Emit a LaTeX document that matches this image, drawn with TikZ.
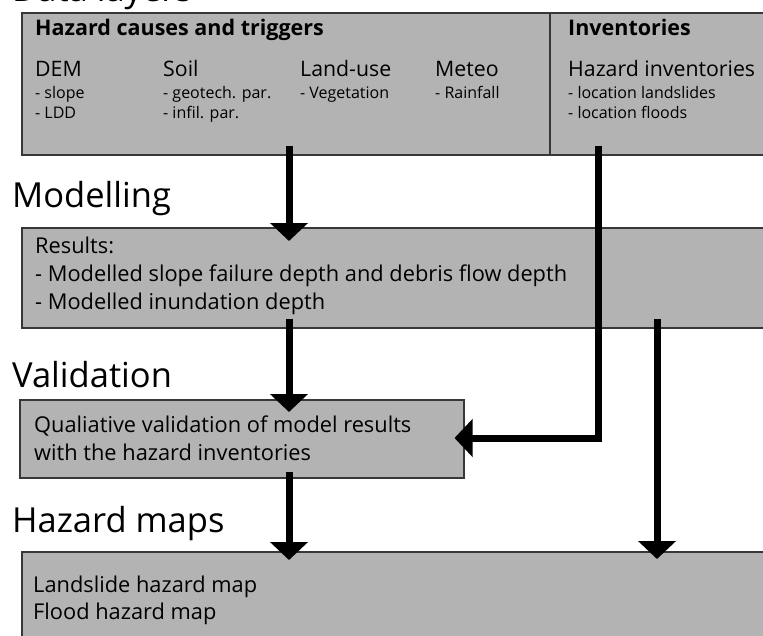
\documentclass[tikz,border=0pt]{standalone}
\usepackage{fontspec}
\setmainfont{Open Sans}
\usetikzlibrary{arrows.meta,calc}
\definecolor{boxfill}{RGB}{179,179,179}
\definecolor{boxline}{RGB}{55,55,55}
\tikzset{
  box/.style={draw=boxline, line width=1.5pt, fill=boxfill, anchor=north west, inner sep=0pt},
  heading/.style={anchor=base west, inner sep=0pt, font=\fontsize{34.5}{40}\selectfont},
  bold/.style={anchor=base west, inner sep=0pt, font=\fontsize{21.5}{24}\selectfont\bfseries},
  title/.style={anchor=base west, inner sep=0pt, font=\fontsize{21.3}{24}\selectfont},
  small/.style={anchor=base west, inner sep=0pt, font=\fontsize{16}{20}\selectfont},
  body/.style={anchor=base west, inner sep=0pt, font=\fontsize{21.8}{24}\selectfont},
  arr/.style={line width=7pt, -{Triangle[length=18pt,width=37pt]}},
}
\begin{document}
\begin{tikzpicture}[x=1pt,y=-1pt]
\useasboundingbox (0,0) rectangle (763,635);
\clip (0,0) rectangle (763,635);
% boxes
\node[box, minimum width=760pt, minimum height=142pt] (b1) at (21,12) {};
\node[box, minimum width=760pt, minimum height=100pt] (b2) at (21,227) {};
\node[box, minimum width=444pt, minimum height=78pt] (b3) at (19,399) {};
\node[box, minimum width=760pt, minimum height=120pt] (b4) at (21,551) {};
\draw[draw=boxline, line width=1.5pt] (b1.north west -| 550,0) coordinate (dtop) -- (b1.south west -| dtop) coordinate (dbot);
% headings
\node[heading] (h0) at (12,1) {Data layers};
\node[heading] (h1) at (12,207) {Modelling};
\node[heading] (h2) at (12,387) {Validation};
\node[heading] (h3) at (12,532) {Hazard maps};
% box 1 text
\node[bold] (t1) at (35,35) {Hazard causes and triggers};
\node[bold] (t2) at (568,35) {Inventories};
\node[title] (dem) at (35,76) {DEM};
\node[title] (soil) at (163,76) {Soil};
\node[title] (lu) at (300,76) {Land-use};
\node[title] (met) at (435,76) {Meteo};
\node[title] (hi) at (568,76) {Hazard inventories};
\node[small] at (35,98) {- slope};
\node[small] at (35,118) {- LDD};
\node[small] at (163,98) {- geotech. par.};
\node[small] at (163,118) {- infil. par.};
\node[small] at (300,98) {- Vegetation};
\node[small] at (435,98) {- Rainfall};
\node[small] at (568,98) {- location landslides};
\node[small] at (568,118) {- location floods};
% box 2 text
\node[body] at (35,253) {Results:};
\node[body] at (35,281) {- Modelled slope failure depth and debris flow depth};
\node[body] at (35,309) {- Modelled inundation depth};
% box 3 text
\node[body] at (34,432) {Qualiative validation of model results};
\node[body] at (34,460) {with the hazard inventories};
% box 4 text
\node[body] at (33,592) {Landslide hazard map};
\node[body] at (33,619) {Flood hazard map};
% arrows
\coordinate (xa) at (289,0);
\coordinate (xb) at (598,0);
\coordinate (xc) at (657,0);
\draw[arr] ($(b1.south -| xa)+(0,-10)$) -- ($(b2.north -| xa)+(0,14)$);
\draw[arr] ($(b2.south -| xa)+(0,-10)$) -- ($(b3.north -| xa)+(0,13)$);
\draw[arr] ($(b3.south -| xa)+(0,-7)$) -- ($(b4.north -| xa)+(0,9)$);
\draw[arr] ($(b1.south -| xb)+(0,-10)$) -- (xb |- 0,438) -- ($(b3.east |- 0,438)+(-10,0)$);
\draw[arr] ($(b2.south -| xc)+(0,-10)$) -- ($(b4.north -| xc)+(0,8)$);
\end{tikzpicture}
\end{document}
